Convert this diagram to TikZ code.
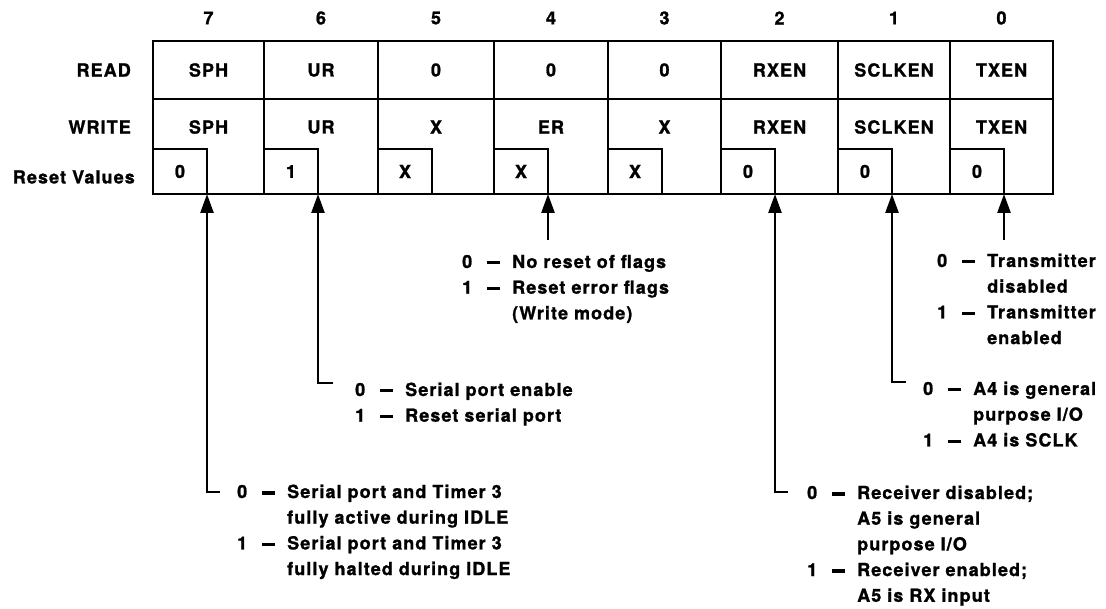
\documentclass[tikz,border=0pt]{standalone}
\usepackage{fontspec}
\newfontfamily\regfont{TeX Gyre Heros}[LetterSpace=6,FakeBold=1.2]
\usetikzlibrary{positioning,arrows.meta}

% value line of a legend: digit, bar, text
\newcommand{\opt}[1]{\makebox[25pt][l]{#1}\makebox[25pt][l]{\rule[3.5pt]{13pt}{3.2pt}}}
\newcommand{\cont}{\hspace*{50pt}}

\begin{document}
\begin{tikzpicture}[x=1pt,y=-1pt,
  reg/.style={line width=2.6pt},
  lbl/.style={font=\regfont\bfseries\fontsize{18}{25.7}\selectfont, inner sep=0pt},
  legend/.style={lbl, anchor=base west, text width=300pt, align=left},
  arr/.style={line width=2.5pt, -{Triangle[length=19pt,width=13pt]}}]
  \useasboundingbox (0,0) rectangle (1106,609);

  % register cells
  \foreach \l/\r/\b/\rd/\wr/\rv in {153/264/7/SPH/SPH/0, 264/378/6/UR/UR/1,
      378/494/5/0/X/X, 494/608/4/0/ER/X, 608/721/3/0/X/X,
      721/838/2/RXEN/RXEN/0, 838/950/1/SCLKEN/SCLKEN/0, 950/1053/0/TXEN/TXEN/0} {
    \draw[reg] (\l,41) rectangle (\r,99);
    \draw[reg] (\l,99) rectangle (\r,194);
    \node[lbl] (bit\b) at ({(\l+\r)/2},18) {\b};
    \node[lbl] (rd\b) at ({(\l+\r)/2},70) {\rd};
    \node[lbl] (wr\b) at ({(\l+\r)/2},127) {\wr};
    \node[lbl, draw, reg, outer sep=0pt, minimum width=54pt, minimum height=45pt,
      anchor=south west] (sb\b) at (\l,194) {\rv};
  }

  \node[lbl, anchor=east] (read) at (131,70) {READ};
  \node[lbl, anchor=east] (write) at (131,127) {WRITE};
  \node[lbl, anchor=east] (reset) at (135,177) {Reset Values};

  % legends
  \node[legend] (leg7) at (237,498) {\opt{0}Serial port and Timer 3\\
    \cont fully active during IDLE\\ \opt{1}Serial port and Timer 3\\
    \cont fully halted during IDLE};
  \node[legend] (leg6) at (355,396) {\opt{0}Serial port enable\\
    \opt{1}Reset serial port};
  \node[legend] (leg4) at (462,268) {\opt{0}No reset of flags\\
    \opt{1}Reset error flags\\ \cont (Write mode)};
  \node[legend] (leg2) at (807,499) {\opt{0}Receiver disabled;\\
    \cont A5 is general\\ \cont purpose I/O\\
    \opt{1}Receiver enabled;\\ \cont A5 is RX input};
  \node[legend] (leg1) at (923,395) {\opt{0}A4 is general\\
    \cont purpose I/O\\ \opt{1}A4 is SCLK};
  \node[legend] (leg0) at (937,267) {\opt{0}Transmitter\\
    \cont disabled\\ \opt{1}Transmitter\\ \cont enabled};

  % arrows
  \coordinate (e7) at (220,492);
  \coordinate (e6) at (333,383);
  \coordinate (e2) at (788,492);
  \coordinate (e1) at (906,382);
  \coordinate (e4) at (sb4.south east |- 0,240);
  \coordinate (e0) at (sb0.south east |- 0,240);
  \draw[arr] (e7) -| (sb7.south east);
  \draw[arr] (e6) -| (sb6.south east);
  \draw[arr] (e4) -- (sb4.south east);
  \draw[arr] (e2) -| (sb2.south east);
  \draw[arr] (e1) -| (sb1.south east);
  \draw[arr] (e0) -- (sb0.south east);
\end{tikzpicture}
\end{document}
